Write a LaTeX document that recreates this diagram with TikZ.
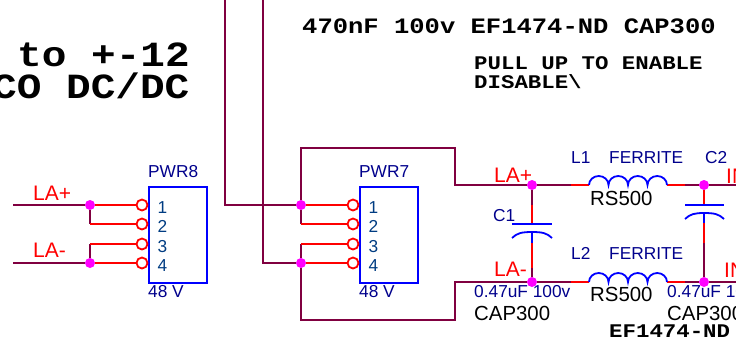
\documentclass[tikz,border=0pt]{standalone}
\usepackage{fontspec}
\setmainfont{Liberation Sans}
\newfontfamily\cour{Liberation Mono}[FakeStretch=1.16]
\definecolor{wire}{RGB}{128,0,64}
\definecolor{pinred}{RGB}{255,0,0}
\definecolor{boxblue}{RGB}{0,0,255}
\definecolor{navy}{RGB}{0,0,140}
\definecolor{pinblue}{RGB}{0,60,130}
\definecolor{jun}{RGB}{255,0,255}
\tikzset{
 wireline/.style={draw=wire,line width=1.8pt,line join=miter},
 pinline/.style={draw=pinred,line width=1.8pt},
 blueline/.style={draw=boxblue,line width=1.8pt},
 pinbubble/.style={circle,draw=pinred,line width=1.8pt,fill=white,minimum size=11pt,inner sep=0pt},
 junc/.style={circle,fill=jun,minimum size=10pt,inner sep=0pt},
 part/.style={draw=boxblue,line width=1.8pt,minimum width=58pt,minimum height=96pt,inner sep=0pt,anchor=north west},
 lab/.style={inner sep=0pt,anchor=base west,font=\fontsize{#1}{#1}\selectfont},
 netlab/.style={lab=21,text=pinred},
 bluelab/.style={lab=17.3,text=navy},
 pinnum/.style={lab=17.3,text=pinblue},
 blk/.style={lab=20.4,text=black},
 mono/.style={inner sep=0pt,anchor=base west,font=\cour\bfseries\fontsize{#1}{#1}\selectfont,text=black},
}
\begin{document}
\begin{tikzpicture}[x=1pt,y=-1pt]
\useasboundingbox (0,0) rectangle (736,340);
\clip (0,0) rectangle (736,340);
% headline texts
\node[mono=35.4] (h1) at (17,66) {to +-12};
\node[mono=35.4] (h2) at (-8,98) {CO DC/DC};
\node[mono=22] (h3) at (302,33) {470nF 100v EF1474-ND CAP300};
\node[mono=19.3] (h4) at (474,69) {PULL UP TO ENABLE};
\node[mono=19.3] (h5) at (474,88) {DISABLE\textbackslash};
% PWR8
\node[part] (p8) at (148,186) {};
\node[bluelab] (p8n) at (148,177) {PWR8};
\node[bluelab] (p8v) at (148,297.5) {48 V};
\foreach \i/\y in {1/205,2/224,3/244,4/263}{
  \node[pinbubble] (a\i) at (142,\y) {};
  \node[pinnum] (an\i) at (157.5,\y+8) {\i};
}
\node[junc] (j1) at (90,205) {};
\node[junc] (j2) at (90,263) {};
\coordinate (l1) at (13,205);
\coordinate (l2) at (13,263);
\coordinate (t2) at (90,224);
\coordinate (t3) at (90,244);
\draw[wireline] (l1) -- (j1) -- (t2);
\draw[wireline] (l2) -- (j2) -- (t3);
\draw[pinline] (j1) -- (a1);
\draw[pinline] (t2) -- (a2);
\draw[pinline] (t3) -- (a3);
\draw[pinline] (j2) -- (a4);
\node[netlab] (n1) at (33,200) {LA+};
\node[netlab] (n2) at (33,257) {LA-};
% PWR7
\node[part] (p7) at (359,186) {};
\node[bluelab] (p7n) at (359,177) {PWR7};
\node[bluelab] (p7v) at (359,297.5) {48 V};
\foreach \i/\y in {1/205,2/224,3/244,4/263}{
  \node[pinbubble] (b\i) at (353,\y) {};
  \node[pinnum] (bn\i) at (368.5,\y+8) {\i};
}
\node[junc] (j3) at (301,205) {};
\node[junc] (j4) at (301,263) {};
\coordinate (u1) at (225,0);
\coordinate (u2) at (263,0);
\coordinate (s2) at (301,224);
\coordinate (s3) at (301,244);
\node[junc] (j5) at (532,185) {};
\node[junc] (j6) at (532,282) {};
\node[junc] (j7) at (704,185) {};
\node[junc] (j8) at (704,282) {};
\draw[wireline] (u1) |- (j3);
\draw[wireline] (u2) |- (j4);
\draw[wireline] (s2) -- (j3) -- (301,148) -- (455,148) -- (455,185) -- (j5);
\draw[wireline] (s3) -- (j4) -- (301,320) -- (455,320) -- (455,282) -- (j6);
\draw[pinline] (j3) -- (b1);
\draw[pinline] (s2) -- (b2);
\draw[pinline] (s3) -- (b3);
\draw[pinline] (j4) -- (b4);
\node[netlab] (n3) at (494,182) {LA+};
\node[netlab] (n4) at (494,276) {LA-};
% ferrites
\foreach \n/\y/\ja/\jb in {t/185/5/7,b/282/6/8}{
  \coordinate (\n a) at (571,\y);
  \coordinate (\n b) at (589,\y);
  \coordinate (\n c) at (667,\y);
  \coordinate (\n d) at (685,\y);
  \draw[wireline] (j\ja) -- (\n a);
  \draw[pinline] (\n a) -- (\n b);
  \draw[pinline] (\n c) -- (\n d);
  \draw[wireline] (\n d) -- (j\jb);
  \draw[blueline] (\n b) arc[start angle=180,end angle=0,x radius=9.75pt,y radius=9pt]
    arc[start angle=180,end angle=0,x radius=9.75pt,y radius=9pt]
    arc[start angle=180,end angle=0,x radius=9.75pt,y radius=9pt]
    arc[start angle=180,end angle=0,x radius=9.75pt,y radius=9pt];
}
\node[bluelab] (f1) at (571,163) {L1};
\node[bluelab] (f2) at (609,163) {FERRITE};
\node[bluelab] (f3) at (705,163) {C2};
\node[bluelab] (f4) at (571,259) {L2};
\node[bluelab] (f5) at (609,259) {FERRITE};
\node[blk] (f6) at (590,205) {RS500};
\node[blk] (f7) at (590,301) {RS500};
% capacitors
\node[bluelab] (c1) at (493,221) {C1};
% C1: purple, red, plate, curve, blue stem, red, purple
\coordinate (c1a) at (532,205);
\coordinate (c1b) at (532,224);
\coordinate (c1c) at (532,232);
\coordinate (c1d) at (532,243);
\coordinate (c1e) at (532,268);
\draw[wireline] (j5) -- (c1a);
\draw[pinline] (c1a) -- (c1b);
\draw[blueline] (512,224) -- (552,224);
\draw[blueline] (512,238) .. controls (517,233) and (522,232) .. (c1c) .. controls (542,232) and (547,233) .. (552,238);
\draw[blueline] (c1c) -- (c1d);
\draw[pinline] (c1d) -- (c1e);
\draw[wireline] (c1e) -- (j6);
% C2
\coordinate (c2b) at (704,205);
\coordinate (c2c) at (704,213);
\coordinate (c2d) at (704,223);
\coordinate (c2e) at (704,243);
\draw[pinline] (j7) -- (c2b);
\draw[blueline] (685,205) -- (724,205);
\draw[blueline] (685,219) .. controls (690,214) and (695,213) .. (c2c) .. controls (714,213) and (719,214) .. (724,219);
\draw[blueline] (c2c) -- (c2d);
\draw[pinline] (c2d) -- (c2e);
\draw[wireline] (c2e) -- (j8);
\node[bluelab] (v1) at (474,297) {0.47uF 100v};
\node[bluelab] (v2) at (667,297) {0.47uF 100v};
\node[blk] (c3) at (474,320) {CAP300};
\node[blk] (c4) at (667,320) {CAP300};
\node[mono=19.3] (e1) at (609,337.5) {EF1474-ND};
% right nets
\coordinate (r1) at (736,185);
\coordinate (r2) at (736,282);
\draw[wireline] (j7) -- (r1);
\draw[wireline] (j8) -- (r2);
\node[netlab] (i1) at (726,183) {IN};
\node[netlab] (i2) at (724,277) {IN};
\end{tikzpicture}
\end{document}
